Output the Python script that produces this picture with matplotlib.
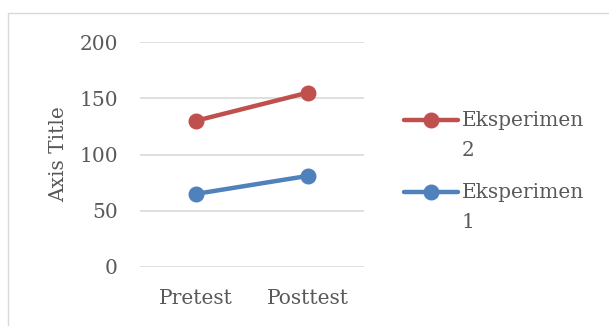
import matplotlib
matplotlib.use("Agg")
import matplotlib.pyplot as plt
from matplotlib.patches import Rectangle
from matplotlib.lines import Line2D

categories = ["Pretest", "Posttest"]
series_names = ["Eksperimen\n1", "Eksperimen\n2"]
eksperimen_1 = [65, 81]
eksperimen_2 = [130, 155]
y_ticks = [0, 50, 100, 150, 200]

colors = ["#4F81BD", "#C0504D"]
text_color = "#595959"
grid_color = "#D9D9D9"
FS = 14.5

plt.rcParams["font.family"] = ["DejaVu Serif"]

W, H = 609, 326
fig = plt.figure(figsize=(W / 100, H / 100), dpi=100)
fig.patch.set_facecolor("white")


def fx(px):
    return px / W


def fy(py):
    return 1 - py / H


# chart area outline
fig.patches.append(Rectangle((fx(8), -0.1), 1.2, fy(13) + 0.1,
                             transform=fig.transFigure, fill=False,
                             edgecolor="#D9D9D9", linewidth=1.0))

ax = fig.add_axes([fx(140), fy(267), 224 / W, 225 / H])
x = list(range(len(categories)))
handles = []
for vals, name, c in zip([eksperimen_1, eksperimen_2], series_names, colors):
    h, = ax.plot(x, vals, color=c, linewidth=3.2, marker="o", markersize=10.5,
                 solid_capstyle="round", label=name, zorder=3)
    handles.append(h)

ax.set_xlim(-0.5, len(categories) - 0.5)
ax.set_ylim(0, 200)
ax.set_yticks(y_ticks)
ax.set_xticks(x)
ax.set_xticklabels(categories)
ax.yaxis.grid(True, color=grid_color, linewidth=1.2)
ax.set_axisbelow(True)
for s in ax.spines.values():
    s.set_visible(False)
ax.tick_params(length=0, labelsize=FS, colors=text_color)
ax.tick_params(axis="y", pad=16)
ax.tick_params(axis="x", pad=15.5)
ax.set_ylabel("Axis Title", fontsize=FS, color=text_color, labelpad=8)

# legend: series listed top to bottom in reverse plotting order
legend_rows = [120, 192]
for h, row in zip(handles[::-1], legend_rows):
    fig.add_artist(Line2D([fx(404), fx(458)], [fy(row), fy(row)],
                          transform=fig.transFigure, color=h.get_color(),
                          linewidth=h.get_linewidth(), solid_capstyle="round"))
    fig.add_artist(Line2D([fx(431)], [fy(row)], transform=fig.transFigure,
                          color=h.get_color(), marker="o",
                          markersize=h.get_markersize()))
    fig.text(fx(462), fy(row - 9), h.get_label(), fontsize=FS,
             color=text_color, va="top", ha="left", linespacing=1.75)

fig.savefig("out.png", dpi=100)
